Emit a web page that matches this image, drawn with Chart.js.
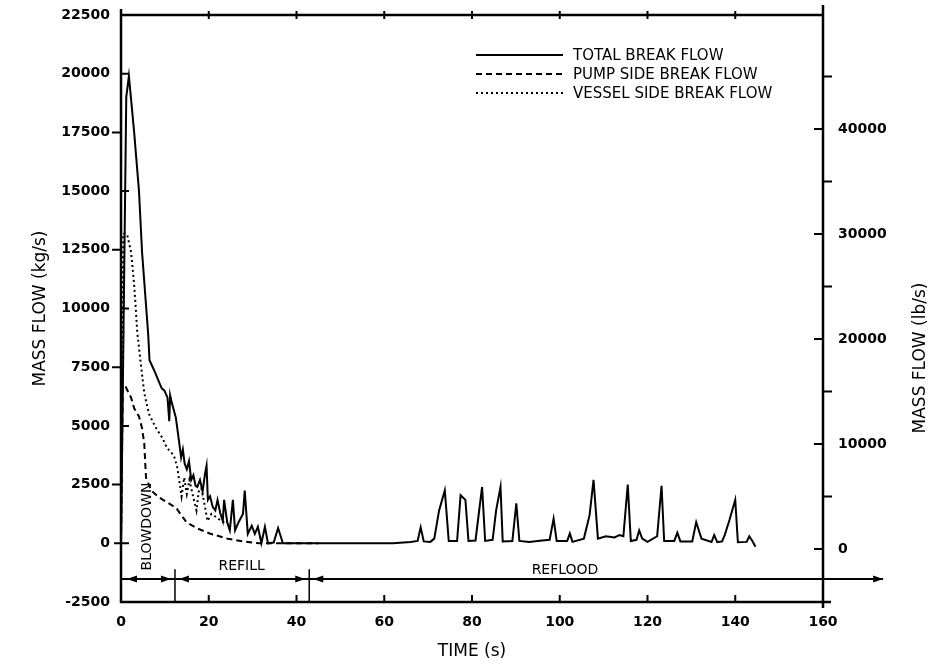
<!DOCTYPE html>
<html>
<head>
<meta charset="utf-8">
<script src="https://cdn.jsdelivr.net/npm/chart.js@4.4.1/dist/chart.umd.min.js"></script>
<style>
  body { margin: 0; background: #fff; }
</style>
</head>
<body>
<canvas id="myChart" width="947" height="670"></canvas>
<script>
// break flow, kg/s
const seriesNames = ['TOTAL BREAK FLOW', 'PUMP SIDE BREAK FLOW', 'VESSEL SIDE BREAK FLOW'];

const tTotal = [0, 1.2, 1.8, 3.0, 4.1, 4.8, 6.2, 6.5, 7.6, 8.7, 9.3, 9.9, 10.6, 11.0, 11.2, 11.5, 12.5, 13.3, 13.7, 14.1,
  14.5, 15.0, 15.5, 16.0, 16.5, 17.0, 17.4, 18.0, 18.6, 19.1, 19.5, 19.8, 20.3, 20.9, 21.5, 22.0, 22.6, 23.2, 23.5, 24.2,
  24.8, 25.5, 26.0, 26.8, 27.8, 28.2, 28.9, 29.8, 30.5, 31.2, 32.0, 32.8, 33.5, 34.8, 35.8, 36.9, 50, 62, 66, 67.6,
  68.3, 69.0, 70.5, 71.4, 72.5, 73.8, 74.7, 76.6, 77.4, 78.5, 79.2, 80.8, 82.3, 83.0, 84.7, 85.5, 86.5, 87.0, 89.2, 90.1,
  90.8, 93.0, 96.0, 97.7, 98.6, 99.3, 101.7, 102.3, 102.9, 105.5, 106.8, 107.7, 108.7, 110.5, 112.5, 113.6, 114.5, 115.5, 116.2, 117.5,
  118.1, 118.8, 120.0, 122.2, 123.2, 123.8, 126.1, 126.8, 127.5, 130.2, 131.1, 132.3, 134.6, 135.2, 135.9, 137.0, 137.6, 138.7, 140.0, 140.6,
  142.6, 143.2, 143.9, 144.6];
const qTotal = [0, 19000, 19900, 17500, 15000, 12400, 8900, 7800, 7350, 6850, 6600, 6500, 6200, 5200, 6300, 6050, 5350, 4250, 3650, 4000,
  3400, 3150, 3500, 2700, 2900, 2450, 2400, 2700, 2200, 2900, 3300, 1850, 2000, 1550, 1400, 1850, 1300, 950, 1850, 900,
  550, 1850, 550, 900, 1250, 2250, 400, 750, 400, 700, 0, 700, 0, 30, 650, 0, 0, 0, 60, 100,
  680, 80, 60, 200, 1400, 2250, 100, 100, 2050, 1850, 100, 120, 2400, 100, 150, 1400, 2400, 80, 100, 1700,
  100, 60, 120, 150, 1050, 100, 100, 420, 60, 200, 1200, 2700, 200, 300, 250, 350, 300, 2500, 100, 150,
  550, 200, 60, 300, 2450, 100, 100, 450, 80, 80, 900, 200, 60, 350, 50, 80, 350, 1000, 1850, 50,
  60, 300, 100, -150];

const tPump = [0, 0.4, 1.1, 2.3, 3.0, 4.1, 4.8, 5.3, 5.5, 5.7, 6.9, 8.7, 10.5, 12.6, 14.9, 17.2, 20.2, 24.0, 27.8, 31.6, 45];
const qPump = [0, 6700, 6650, 6200, 5750, 5400, 4900, 4250, 3500, 2800, 2250, 1950, 1750, 1500, 900, 650, 420, 210, 80, 0, 0];

const tVessel = [0, 0.5, 1.4, 2.3, 3.0, 3.3, 3.7, 4.6, 5.3, 6.4, 8.0, 9.4, 10.5, 11.4, 12.2, 12.8, 13.3, 13.8, 14.4, 15.0,
  15.6, 16.3, 17.2, 17.7, 18.3, 19.0, 19.7, 20.6, 21.8, 22.9, 24.0];
const qVessel = [0, 13200, 13150, 12400, 11000, 10200, 9000, 7500, 6400, 5500, 4900, 4500, 4050, 3900, 3650, 3250, 2650, 2000, 2800, 2100,
  2700, 2100, 1400, 2200, 2350, 1700, 950, 1250, 1100, 950, 850];

// ticks
const xTicks = [0, 20, 40, 60, 80, 100, 120, 140, 160];
const yTicks = [-2500, 0, 2500, 5000, 7500, 10000, 12500, 15000, 17500, 20000, 22500];
const y2Ticks = [0, 5000, 10000, 15000, 20000, 25000, 30000, 35000, 40000, 45000];
const y2Labels = [0, 10000, 20000, 30000, 40000];

// phases
const phaseEdges = [0, 12.3, 42.9];
const phaseEnd = 173.7;
const phaseNames = ['BLOWDOWN', 'REFILL', 'REFLOOD'];
const phaseLabelT = [6.0, 27.5, 101.2];
const phaseLabelQ = [716, -1000, -1140];
const arrowLevel = -1520;
const dividerTop = -1100;

const fontName = 'DejaVu Sans';
const tickFont = { family: fontName, size: 14, weight: 'bold' };

function toPoints(ts, qs) {
  return ts.map((t, i) => ({ x: t, y: qs[i] }));
}

function arrowHead(ctx, tip, yy, dir) {
  ctx.beginPath();
  ctx.moveTo(tip, yy);
  ctx.lineTo(tip - dir * 10, yy - 3.5);
  ctx.lineTo(tip - dir * 10, yy + 3.5);
  ctx.closePath();
  ctx.fill();
}

function vertFit(width) {
  return s => {
    s.width = width;
    s.paddingTop = 0;
    s.paddingBottom = 0;
  };
}

const phasePlugin = {
  id: 'phase',
  afterDatasetsDraw(chart) {
    const { ctx, chartArea: a, scales: { x, y } } = chart;
    const ay = y.getPixelForValue(arrowLevel);
    ctx.save();
    ctx.strokeStyle = '#000';
    ctx.fillStyle = '#000';
    ctx.lineWidth = 2;
    const edges = phaseEdges.map(t => x.getPixelForValue(t));
    edges.push(x.getPixelForValue(phaseEnd));
    ctx.beginPath();
    ctx.moveTo(edges[0], ay);
    ctx.lineTo(edges[edges.length - 1], ay);
    ctx.stroke();
    ctx.lineWidth = 1.5;
    phaseEdges.slice(1).forEach(t => {
      const px = x.getPixelForValue(t);
      ctx.beginPath();
      ctx.moveTo(px, y.getPixelForValue(dividerTop));
      ctx.lineTo(px, a.bottom);
      ctx.stroke();
    });
    for (let i = 0; i < phaseNames.length; i++) {
      arrowHead(ctx, edges[i] + (i === 0 ? 6 : 4), ay, -1);
      if (i < phaseNames.length - 1) arrowHead(ctx, edges[i + 1] - 4, ay, 1);
      else arrowHead(ctx, edges[i + 1], ay, 1);
    }
    ctx.font = '14px ' + fontName;
    ctx.textAlign = 'center';
    ctx.textBaseline = 'middle';
    phaseNames.forEach((name, i) => {
      const px = x.getPixelForValue(phaseLabelT[i]);
      const py = y.getPixelForValue(phaseLabelQ[i]);
      ctx.save();
      ctx.translate(px, py);
      if (i === 0) ctx.rotate(-Math.PI / 2);
      ctx.fillText(name, 0, 0);
      ctx.restore();
    });
    ctx.restore();
  }
};

const framePlugin = {
  id: 'frame',
  afterDraw(chart) {
    const { ctx, chartArea: a, scales: { x, y, y2 } } = chart;
    ctx.save();
    ctx.strokeStyle = '#000';
    ctx.lineWidth = 2.5;
    ctx.beginPath();
    ctx.moveTo(a.left, a.top);
    ctx.lineTo(a.right, a.top);
    ctx.moveTo(a.left, a.top - 6);
    ctx.lineTo(a.left, a.bottom);
    ctx.lineTo(a.right + 8, a.bottom);
    ctx.moveTo(a.right, a.top - 10);
    ctx.lineTo(a.right, a.bottom + 6);
    ctx.stroke();

    ctx.lineWidth = 2;
    ctx.beginPath();
    xTicks.slice(1, -1).forEach(v => {
      const px = x.getPixelForValue(v);
      ctx.moveTo(px, a.bottom);
      ctx.lineTo(px, a.bottom - 7);
      ctx.moveTo(px, a.top - 4);
      ctx.lineTo(px, a.top + 4);
    });
    yTicks.slice(1, -1).forEach(v => {
      const py = y.getPixelForValue(v);
      if (v === 0) {
        ctx.moveTo(a.left - 7, py);
        ctx.lineTo(a.left + 8, py);
      } else if (v % 5000 === 0) {
        ctx.moveTo(a.left, py);
        ctx.lineTo(a.left + 8, py);
      } else {
        ctx.moveTo(a.left - 9, py);
        ctx.lineTo(a.left, py);
      }
    });
    y2Ticks.forEach(v => {
      const py = y2.getPixelForValue(v);
      if (v % 10000 === 0) {
        ctx.moveTo(a.right - 9, py);
        ctx.lineTo(a.right, py);
      } else {
        ctx.moveTo(a.right, py);
        ctx.lineTo(a.right + 9, py);
      }
    });
    ctx.stroke();

    // right axis title sits lower than the middle in the original
    ctx.fillStyle = '#000';
    ctx.font = '17px ' + fontName;
    ctx.textAlign = 'center';
    ctx.textBaseline = 'middle';
    ctx.translate(921, 358);
    ctx.rotate(-Math.PI / 2);
    ctx.fillText('MASS FLOW (lb/s)', 0, 0);
    ctx.restore();
  }
};

const legendPlugin = {
  id: 'sideLegend',
  afterDraw(chart) {
    const ctx = chart.ctx;
    const rows = [55, 74, 93];
    ctx.save();
    ctx.font = '15px ' + fontName;
    ctx.textBaseline = 'middle';
    ctx.fillStyle = '#000';
    chart.data.datasets.forEach((ds, i) => {
      ctx.strokeStyle = '#000';
      ctx.lineWidth = ds.borderWidth;
      ctx.setLineDash(ds.borderDash || []);
      ctx.beginPath();
      ctx.moveTo(476, rows[i]);
      ctx.lineTo(563, rows[i]);
      ctx.stroke();
      ctx.fillText(ds.label, 573, rows[i] + 1);
    });
    ctx.restore();
  }
};

const data = {
  datasets: [{
    label: seriesNames[0],
    data: toPoints(tTotal, qTotal),
    borderColor: '#000',
    borderWidth: 2,
    borderDash: []
  }, {
    label: seriesNames[1],
    data: toPoints(tPump, qPump),
    borderColor: '#000',
    borderWidth: 2,
    borderDash: [6, 4]
  }, {
    label: seriesNames[2],
    data: toPoints(tVessel, qVessel),
    borderColor: '#000',
    borderWidth: 2,
    borderDash: [2, 3]
  }]
};
data.datasets.forEach(ds => {
  ds.showLine = true;
  ds.pointRadius = 0;
  ds.tension = 0;
  ds.yAxisID = 'y';
});

const config = {
  type: 'scatter',
  data: data,
  options: {
    responsive: false,
    animation: false,
    layout: { padding: { top: 15, left: 0, right: 0, bottom: 0 } },
    plugins: {
      legend: { display: false },
      tooltip: { enabled: false }
    },
    scales: {
      x: {
        type: 'linear',
        min: 0,
        max: 160,
        afterBuildTicks: s => { s.ticks = xTicks.map(v => ({ value: v })); },
        ticks: { font: tickFont, color: '#000', padding: 12, maxRotation: 0, autoSkip: false, callback: v => String(v) },
        grid: { display: false, drawTicks: false },
        border: { display: false },
        title: { display: true, text: 'TIME (s)', color: '#000', font: { family: fontName, size: 17 }, padding: { top: 0, bottom: 8 } },
        afterFit: s => { s.height = 68; s.paddingLeft = 0; s.paddingRight = 0; }
      },
      y: {
        position: 'left',
        min: -2500,
        max: 22500,
        afterBuildTicks: s => { s.ticks = yTicks.map(v => ({ value: v })); },
        ticks: { font: tickFont, color: '#000', padding: 11, autoSkip: false, callback: v => String(v) },
        grid: { display: false, drawTicks: false },
        border: { display: false },
        title: { display: true, text: 'MASS FLOW (kg/s)', color: '#000', font: { family: fontName, size: 17 }, padding: { top: 30, bottom: 0 } },
        afterFit: vertFit(121)
      },
      y2: {
        position: 'right',
        min: -5050,
        max: 50860,
        afterBuildTicks: s => { s.ticks = y2Ticks.map(v => ({ value: v })); },
        ticks: {
          font: tickFont, color: '#000', padding: 15, autoSkip: false,
          callback: v => (y2Labels.includes(v) ? String(v) : '')
        },
        grid: { display: false, drawTicks: false },
        border: { display: false },
        afterFit: vertFit(124)
      }
    }
  },
  plugins: [phasePlugin, framePlugin, legendPlugin]
};

const chart = new Chart(document.getElementById('myChart'), config);
</script>
</body>
</html>
